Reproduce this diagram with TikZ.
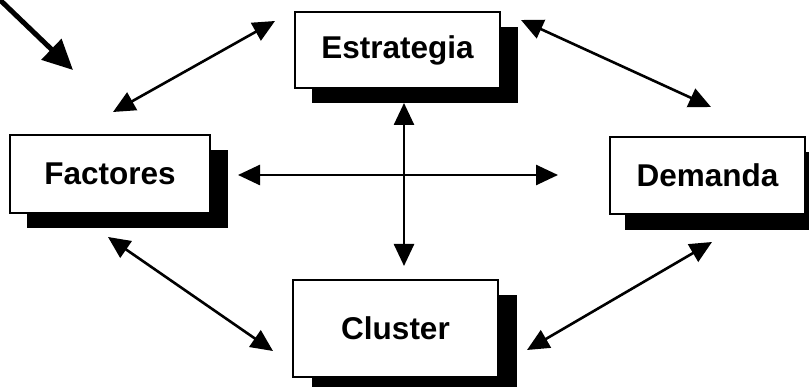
\documentclass[tikz,border=0pt]{standalone}
\usepackage{fontspec}
\setmainfont{Liberation Sans}
\usetikzlibrary{arrows.meta}
\begin{document}
\begin{tikzpicture}[x=1pt,y=-1pt,
  box/.style={draw=black,line width=1.6pt,fill=white,inner sep=0pt,font=\fontsize{31.5}{36}\selectfont\bfseries},
  shadowbox/.style={fill=black,draw=none},
  link/.style={line width=2.6pt,{Triangle[length=22pt,width=20pt]}-{Triangle[length=22pt,width=20pt]}},
  bigarrow/.style={line width=5pt,-{Triangle[length=30pt,width=28pt]}}]
\useasboundingbox (0,0) rectangle (809,387);
% shadows
\fill[shadowbox] (312,27) rectangle (518,103);
\fill[shadowbox] (27,150) rectangle (228,228);
\fill[shadowbox] (625,152) rectangle (822,230);
\fill[shadowbox] (312,295) rectangle (517,392);
% boxes
\node[box,minimum width=205pt,minimum height=76pt] (E) at (397.5,50) {Estrategia};
\node[box,minimum width=200pt,minimum height=78pt] (F) at (110,174) {Factores};
\node[box,minimum width=195pt,minimum height=77pt] (D) at (707.5,175.5) {Demanda};
\node[box,minimum width=205pt,minimum height=97pt] (C) at (395.5,328.5) {Cluster};
% arrow endpoints
\coordinate (s0) at (-2,-2);
\coordinate (s1) at (73,70);
\coordinate (fe1) at (113,112);
\coordinate (fe2) at (275,21);
\coordinate (ed1) at (521,20);
\coordinate (ed2) at (711,107);
\coordinate (v1) at (404,103);
\coordinate (v2) at (404,266);
\coordinate (h1) at (238,175);
\coordinate (h2) at (558,175);
\coordinate (fc1) at (108,237);
\coordinate (fc2) at (273,351);
\coordinate (cd1) at (527,350);
\coordinate (cd2) at (712,242);
\draw[bigarrow] (s0) -- (s1);
\draw[link] (fe1) -- (fe2);
\draw[link] (ed1) -- (ed2);
\draw[link] (v1) -- (v2);
\draw[link] (h1) -- (h2);
\draw[link] (fc1) -- (fc2);
\draw[link] (cd1) -- (cd2);
\end{tikzpicture}
\end{document}
